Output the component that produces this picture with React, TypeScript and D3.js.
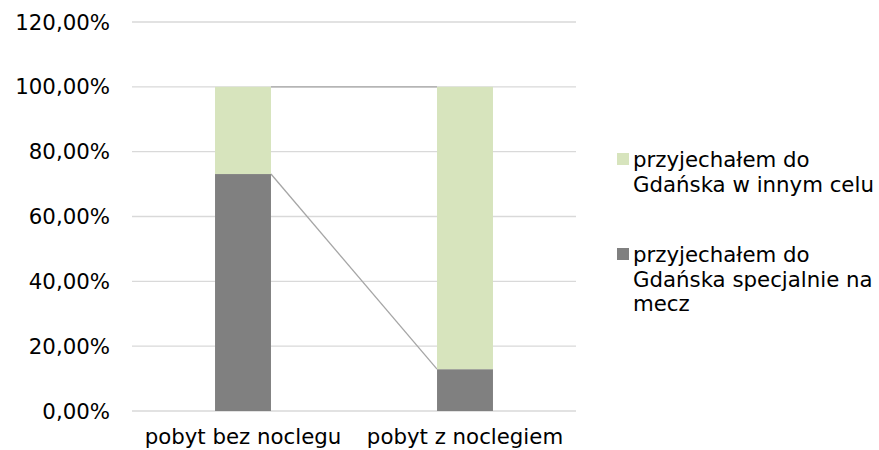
import { useEffect, useRef } from 'react';
import * as d3 from 'd3';

const categories = ['pobyt bez noclegu', 'pobyt z noclegiem'];
const seriesNames = [
  ['przyjechałem do', 'Gdańska specjalnie na', 'mecz'],
  ['przyjechałem do', 'Gdańska w innym celu'],
];
const specialValues = [73.1, 12.9];
const otherValues = [26.9, 87.1];
const yTicks = [0, 20, 40, 60, 80, 100, 120];
const colors = ['#808080', '#D7E4BD'];

export default function App() {
  const svgRef = useRef<SVGSVGElement>(null);

  useEffect(() => {
    if (!svgRef.current) return;
    const width = 879;
    const height = 450;
    const font = '"DejaVu Sans", Verdana, sans-serif';
    const fs = '21.3px';

    const svg = d3.select(svgRef.current);
    svg.selectAll('*').remove();
    svg.attr('width', width).attr('height', height);

    const x = d3.scalePoint<string>().domain(categories).range([132, 576]).padding(0.5);
    const barW = x.step() * 0.252;
    const y = d3.scaleLinear().domain([0, 120]).range([411, 22]);

    // gridlines
    svg.append('g')
      .selectAll('line')
      .data(yTicks)
      .join('line')
      .attr('x1', 132)
      .attr('x2', 576)
      .attr('y1', d => y(d))
      .attr('y2', d => y(d))
      .attr('stroke', '#D9D9D9')
      .attr('stroke-width', 1.3);

    // tick labels
    svg.append('g')
      .selectAll('text')
      .data(yTicks)
      .join('text')
      .attr('x', 110)
      .attr('y', d => y(d) + 7.5)
      .attr('text-anchor', 'end')
      .style('font-family', font)
      .style('font-size', fs)
      .style('fill', '#000')
      .text(d => d.toFixed(2).replace('.', ',') + '%');

    const stack = categories.map((c, i) => ({
      cat: c,
      segs: [
        { y0: 0, y1: specialValues[i], color: colors[0] },
        { y0: specialValues[i], y1: specialValues[i] + otherValues[i], color: colors[1] },
      ],
    }));

    // series lines between bars
    const lines = svg.append('g').attr('stroke', '#A6A6A6').attr('stroke-width', 1.3);
    [0, 1].forEach(s => {
      lines.append('line')
        .attr('x1', x(categories[0])! + barW / 2)
        .attr('y1', y(stack[0].segs[s].y1))
        .attr('x2', x(categories[1])! - barW / 2)
        .attr('y2', y(stack[1].segs[s].y1));
    });

    // bars
    stack.forEach(d => {
      svg.append('g')
        .selectAll('rect')
        .data(d.segs)
        .join('rect')
        .attr('x', x(d.cat)! - barW / 2)
        .attr('width', barW)
        .attr('y', s => y(s.y1))
        .attr('height', s => y(s.y0) - y(s.y1))
        .attr('fill', s => s.color);
    });

    // category labels
    svg.append('g')
      .selectAll('text')
      .data(categories)
      .join('text')
      .attr('x', d => x(d)!)
      .attr('y', 444)
      .attr('text-anchor', 'middle')
      .style('font-family', font)
      .style('font-size', fs)
      .style('fill', '#000')
      .text(d => d);

    // legend
    const legend = [
      { lines: seriesNames[1], color: colors[1], top: 153 },
      { lines: seriesNames[0], color: colors[0], top: 248 },
    ];
    legend.forEach(l => {
      svg.append('rect')
        .attr('x', 617)
        .attr('y', l.top)
        .attr('width', 12)
        .attr('height', 12)
        .attr('fill', l.color);
      const t = svg.append('text')
        .attr('x', 633)
        .attr('y', l.top + 14)
        .style('font-family', font)
        .style('font-size', fs)
        .style('fill', '#000');
      l.lines.forEach((ln, i) => {
        t.append('tspan').attr('x', 633).attr('dy', i === 0 ? 0 : 24.5).text(ln);
      });
    });
  }, []);

  return (
    <div style={{ position: 'absolute', left: 0, top: 0 }}>
      <svg ref={svgRef} style={{ display: 'block', background: '#fff' }} />
    </div>
  );
}
